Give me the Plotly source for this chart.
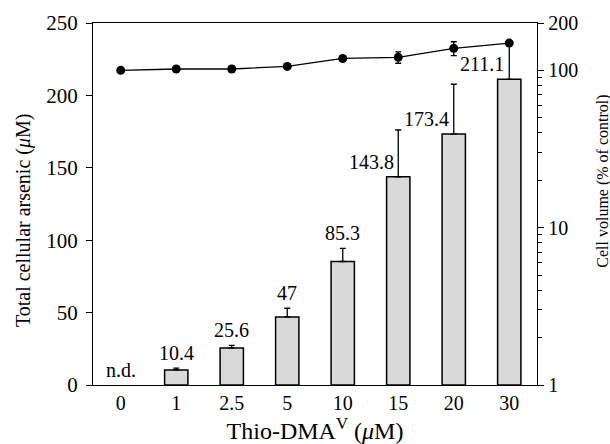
import plotly.graph_objects as go

categories = ["0", "1", "2.5", "5", "10", "15", "20", "30"]
arsenic = [None, 10.4, 25.6, 47, 85.3, 143.8, 173.4, 211.1]  # first: not detected
arsenic_err = [0, 1.2, 1.8, 6, 9.1, 32.3, 34.3, 24]
bar_labels = ["n.d.", "10.4", "25.6", "47", "85.3", "143.8", "173.4", "211.1"]
volume = [100, 102, 102, 106, 119, 121, 138, 149]
volume_err = [3, 3, 4, 3, 4, 10, 14, 4]

FONT = "Liberation Serif"
FS = 20
fig = go.Figure()
fig.add_trace(go.Bar(
    x=categories, y=arsenic, width=0.42,
    marker=dict(color="#d9d9d9", line=dict(color="black", width=1.5)),
    error_y=dict(type="data", array=arsenic_err, arrayminus=[0]*len(arsenic_err),
                 symmetric=False, color="black", thickness=1.3, width=3),
    showlegend=False, xaxis="x", yaxis="y"))
fig.add_trace(go.Scatter(
    x=categories, y=volume, mode="lines+markers",
    line=dict(color="black", width=1.3),
    marker=dict(color="black", size=9),
    error_y=dict(type="data", array=volume_err, color="black", thickness=1.3, width=3),
    showlegend=False, xaxis="x", yaxis="y2"))

annotations = []
for i, (v, e, t) in enumerate(zip(arsenic, arsenic_err, bar_labels)):
    base = v if v is not None else 0
    if i >= 5:
        annotations.append(dict(x=i, y=base, text=t, showarrow=False, xref="x", yref="y",
                                yanchor="bottom", xshift=-27, yshift=2,
                                font=dict(family=FONT, size=FS, color="black")))
    else:
        annotations.append(dict(x=i, y=base + e, text=t, showarrow=False, xref="x", yref="y",
                                yanchor="bottom", yshift=2,
                                font=dict(family=FONT, size=FS, color="black")))

annotations.append(dict(text="Total cellular arsenic (<i>μ</i>M)", textangle=-90,
                        x=-0.155, y=0.456, xref="paper", yref="paper",
                        xanchor="center", yanchor="middle", showarrow=False,
                        font=dict(family=FONT, size=20, color="black")))
annotations.append(dict(text="Cell volume (% of control)", textangle=-90,
                        x=1.148, y=0.5635, xref="paper", yref="paper",
                        xanchor="center", yanchor="middle", showarrow=False,
                        font=dict(family=FONT, size=16, color="black")))

fig.update_layout(
    width=610, height=444,
    margin=dict(l=93, r=73, t=23, b=59),
    paper_bgcolor="white", plot_bgcolor="white",
    font=dict(family=FONT, size=FS, color="black"),
    xaxis=dict(type="category", range=[-0.5, 7.5], showline=True, linecolor="black",
               linewidth=1.3, mirror=True, ticks="", showgrid=False, automargin=False,
               title=dict(text="Thio-DMA<sup>V</sup> (<i>μ</i>M)", standoff=4)),
    yaxis=dict(range=[0, 250], tickvals=[0, 50, 100, 150, 200, 250], showline=True,
               linecolor="black", linewidth=1.3, ticks="outside", ticklen=6,
               tickcolor="black", showgrid=False, zeroline=False, automargin=False,
               tickfont=dict(family=FONT, size=21, color="black"),
               ticklabelstandoff=4),
    yaxis2=dict(type="log", range=[0, 2.30103], overlaying="y", side="right",
                tickvals=[1, 10, 100, 200], ticktext=["1", "10", "100", "200"],
                showline=True, linecolor="black", linewidth=1.3, ticks="outside",
                ticklen=6, tickcolor="black", showgrid=False, automargin=False,
                minor=dict(tickvals=[2, 3, 4, 5, 6, 7, 8, 9, 20, 30, 40, 50, 60, 70, 80, 90],
                           ticks="outside", ticklen=4, tickcolor="black", showgrid=False)),
    annotations=annotations,
)
fig.write_html("out.html")
